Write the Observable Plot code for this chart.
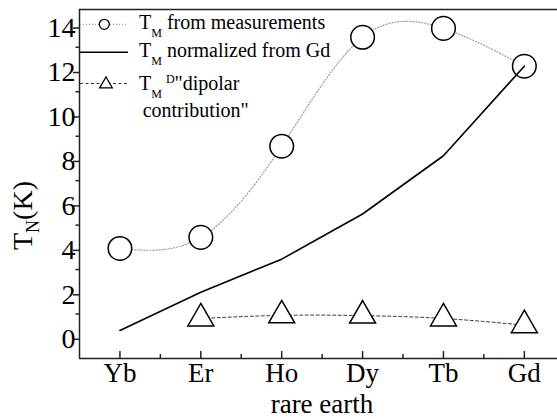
<!DOCTYPE html>
<html>
<head>
<meta charset="utf-8">
<script src="https://cdn.jsdelivr.net/npm/d3@7"></script>
<script src="https://cdn.jsdelivr.net/npm/@observablehq/plot@0.6"></script>
<style>
  html, body { margin: 0; padding: 0; background: white; }
</style>
</head>
<body>
<div id="chart"></div>
<script>
const elements = ["Yb", "Er", "Ho", "Dy", "Tb", "Gd"];
const measured = [3.95, 4.45, 8.55, 13.45, 13.85, 12.15];
const normalized = [0.26, 1.98, 3.47, 5.5, 8.12, 12.15];
const dipolar = [null, 0.8, 0.94, 0.93, 0.8, 0.5];
const yTicks = [0, 2, 4, 6, 8, 10, 12, 14];
const yMinorTicks = [1, 3, 5, 7, 9, 11, 13];
const xDomain = [-0.5, 5.41];
const yDomain = [-1, 14.7];

const idx = elements.map((e, i) => i);
const xMinorTicks = idx.slice(0, -1).map(i => i + 0.5);
const rows = elements.map((e, i) => ({i, e, m: measured[i], n: normalized[i], d: dipolar[i]}));

const FONT = "'Liberation Serif', 'Times New Roman', serif";
const AX = "#222";

const plot = Plot.plot({
  width: 557,
  height: 419,
  marginLeft: 79,
  marginRight: 0,
  marginTop: 9,
  marginBottom: 61,
  style: {fontFamily: FONT, fontSize: "27px", background: "white", color: "black", overflow: "visible"},
  x: {domain: xDomain, axis: null},
  y: {domain: yDomain, axis: null},
  marks: [
    Plot.line(rows, {x: "i", y: "m", curve: "natural", stroke: "#999", strokeWidth: 1.2, strokeDasharray: "1,2"}),
    Plot.line(rows, {x: "i", y: "d", curve: "natural", stroke: "#333", strokeWidth: 1, strokeDasharray: "3,2.5"}),
    Plot.dot(rows, {x: "i", y: "m", r: 11.8, fill: "white", stroke: "black", strokeWidth: 1.5}),
    Plot.line(rows, {x: "i", y: "n", stroke: "black", strokeWidth: 1.6}),
    Plot.dot(rows.filter(d => d.d != null), {x: "i", y: "d", symbol: "triangle", r: 9.64, fill: "white", stroke: "black", strokeWidth: 1.5}),
    // frame
    Plot.ruleX([xDomain[0]], {stroke: AX, strokeWidth: 1.5}),
    Plot.ruleY(yDomain, {stroke: AX, strokeWidth: 1.5}),
    // y axis
    Plot.axisY(yTicks, {tickSize: 6, tickPadding: -2, fontSize: 28, dy: 3, stroke: AX, strokeWidth: 1.5, tickFormat: d => String(d), label: null}),
    Plot.ruleY(yMinorTicks, {y: d => d, x1: xDomain[0], x2: xDomain[0], insetLeft: -3.5, stroke: AX, strokeWidth: 1.5}),
    // x axis ticks (inside)
    Plot.ruleX(idx, {x: d => d, y1: yDomain[0], y2: yDomain[0], insetTop: -7, stroke: AX, strokeWidth: 1.5}),
    Plot.ruleX(xMinorTicks, {x: d => d, y1: yDomain[0], y2: yDomain[0], insetTop: -4, stroke: AX, strokeWidth: 1.5}),
    Plot.axisX(idx, {tickSize: 0, tickPadding: 4, tickFormat: i => elements[i], label: null})
  ]
});

document.getElementById("chart").appendChild(plot);

const svg = d3.select(plot);
// axis titles
svg.append("text")
  .attr("x", 322).attr("y", 413)
  .style("text-anchor", "middle")
  .style("font-family", FONT).style("font-size", "27px")
  .text("rare earth");

const yl = svg.append("text")
  .attr("transform", "translate(32,250) rotate(-90)")
  .style("text-anchor", "start")
  .style("font-family", FONT).style("font-size", "28px");
yl.append("tspan").text("T");
yl.append("tspan").style("font-size", "18px").attr("dy", 7).text("N");
yl.append("tspan").attr("dy", -7).text("(K)");

// legend
const lg = svg.append("g").style("font-family", FONT).style("font-size", "20px").style("text-anchor", "start");
// row 1
lg.append("line").attr("x1", 80).attr("x2", 127).attr("y1", 24.3).attr("y2", 24.3)
  .attr("stroke", "#999").attr("stroke-width", 1.2).attr("stroke-dasharray", "1,2");
lg.append("circle").attr("cx", 104.3).attr("cy", 24.3).attr("r", 5)
  .attr("fill", "white").attr("stroke", "black").attr("stroke-width", 1.3);
// row 2
lg.append("line").attr("x1", 80).attr("x2", 128).attr("y1", 52.3).attr("y2", 52.3)
  .attr("stroke", "black").attr("stroke-width", 1.6);
// row 3
lg.append("line").attr("x1", 80).attr("x2", 128).attr("y1", 83.5).attr("y2", 83.5)
  .attr("stroke", "#333").attr("stroke-width", 1).attr("stroke-dasharray", "3,2.5");
lg.append("path").attr("d", d3.symbol(d3.symbolTriangle, 70)())
  .attr("transform", "translate(106,84.3)")
  .attr("fill", "white").attr("stroke", "black").attr("stroke-width", 1.3);

function tm(y, rest, sup) {
  const t = lg.append("text").attr("x", 139).attr("y", y).style("text-anchor", "start");
  t.append("tspan").text("T");
  t.append("tspan").style("font-size", "12px").attr("dy", 7.5).text("M");
  if (sup) {
    t.append("tspan").style("font-size", "12px").attr("dx", 4).attr("dy", -15).text(sup);
    t.append("tspan").attr("dy", 7.5).text(rest);
  } else {
    t.append("tspan").attr("dy", -7.5).text(" " + rest);
  }
}
tm(29.3, "from measurements");
tm(57.3, "normalized from Gd");
tm(90, "\"dipolar", "D");
lg.append("text").attr("x", 142.7).attr("y", 116.7).style("text-anchor", "start").text("contribution\"");
</script>
</body>
</html>
